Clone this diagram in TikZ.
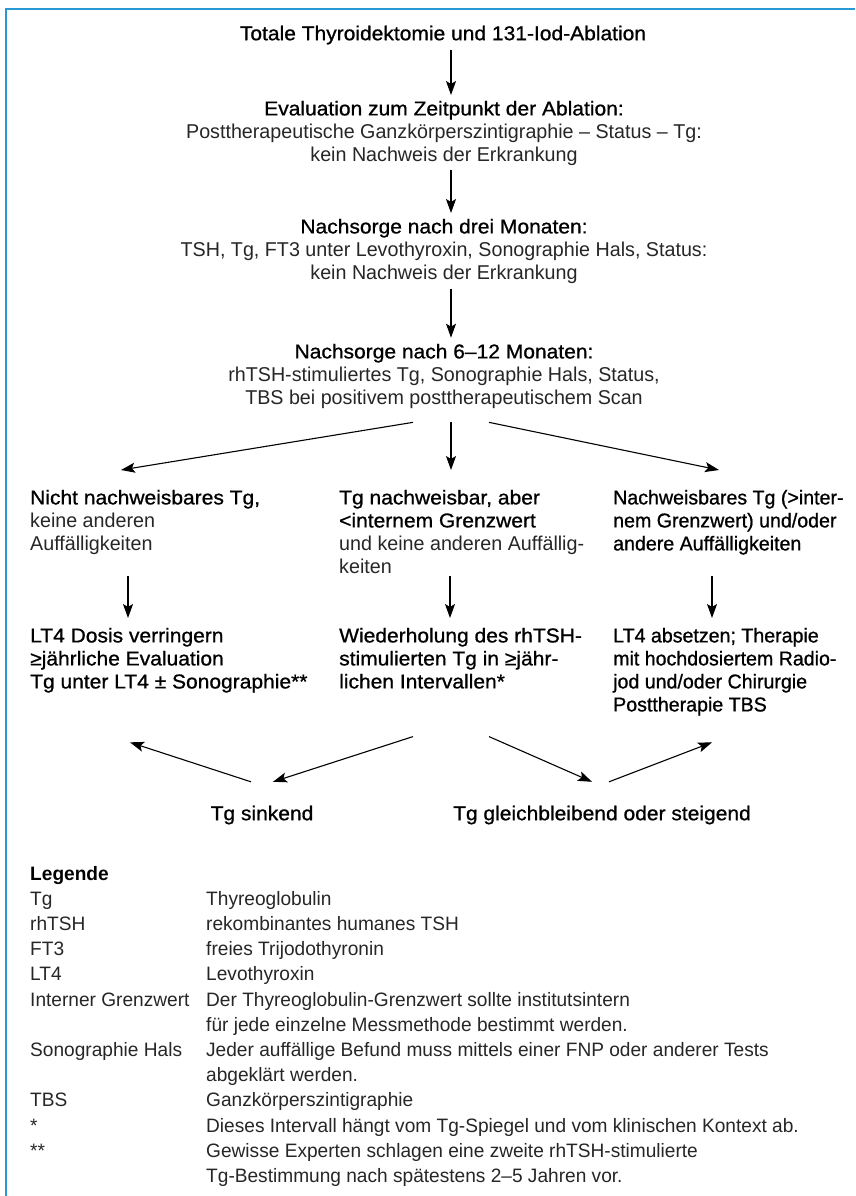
\documentclass[tikz,border=0pt]{standalone}
\usepackage{fontspec}
\setmainfont{Liberation Sans}[FakeStretch=0.985]
\newfontfamily\medfont{Liberation Sans}[FakeStretch=1.05,FakeBold=0.9]
\newfontfamily\medslim{Liberation Sans}[FakeStretch=0.98,FakeBold=0.9]
\usepackage{tikz}
\usetikzlibrary{arrows.meta,positioning}

\definecolor{frameblue}{RGB}{40,152,215}
\definecolor{litetext}{gray}{0.15}
\newcommand{\fsz}{\fontsize{20}{23}\selectfont}
\newcommand{\lgsz}{\fontsize{19.4}{25.2}\selectfont}
\newcommand{\md}[1]{{\medfont\color{black}#1}}

\tikzset{
  every node/.style={inner sep=0pt,font=\fsz,text=litetext},
  med/.style={font=\fsz\medfont,text=black},
  medslim/.style={font=\fsz\medslim,text=black},
  colbox/.style={anchor=north west,align=left},
  arr/.style={-{Stealth[length=14pt,width=10pt,inset=3pt]},line width=1.1pt}
}

\begin{document}
\begin{tikzpicture}[x=1pt,y=-1pt]
\useasboundingbox (0,0) rectangle (855,1196);
% frame
\draw[frameblue,line width=2pt] (6,1196) -- (6,9) -- (855,9);

% main chain
\node[med,anchor=base] (title) at (443,40.2) {Totale Thyroidektomie und 131-Iod-Ablation};
\node[align=center,anchor=north] (eval) at (444,100.7) {\md{Evaluation zum Zeitpunkt der Ablation:}\\
  Posttherapeutische Ganzkörperszintigraphie – Status – Tg:\\
  kein Nachweis der Erkrankung};
\node[align=center,anchor=north] (drei) at (444,218.7) {\md{Nachsorge nach drei Monaten:}\\
  TSH, Tg, FT3 unter Levothyroxin, Sonographie Hals, Status:\\
  kein Nachweis der Erkrankung};
\node[align=center,anchor=north] (sechs) at (444,343.7) {\md{Nachsorge nach 6–12 Monaten:}\\
  rhTSH-stimuliertes Tg, Sonographie Hals, Status,\\
  TBS bei positivem posttherapeutischem Scan};

\draw[arr] ([xshift=8pt,yshift=-5.6pt]title.south) -- ([xshift=7pt,yshift=5.7pt]eval.north);
\draw[arr] ([xshift=7pt,yshift=-4.6pt]eval.south) -- ([xshift=7pt,yshift=5.7pt]drei.north);
\draw[arr] ([xshift=7pt,yshift=-5.6pt]drei.south) -- ([xshift=7pt,yshift=6pt]sechs.north);

% first row
\node[colbox] (left1) at (30,489.7) {\md{Nicht nachweisbares Tg,}\\
  keine anderen\\ Auffälligkeiten};
\node[colbox] (mid1) at (339,489.7) {\md{Tg nachweisbar, aber}\\
  \md{<internem Grenzwert}\\ und keine anderen Auffällig-\\ keiten};
\node[colbox,medslim] (right1) at (613,489.7) {Nachweisbares Tg (>inter-\\
  nem Grenzwert) und/oder\\ andere Auffälligkeiten};

\draw[arr] ([xshift=-31pt,yshift=-13.6pt]sechs.south) -- ([xshift=91pt,yshift=19.7pt]left1.north west);
\draw[arr] ([xshift=7pt,yshift=-13.6pt]sechs.south) -- ([xshift=112pt,yshift=19.7pt]mid1.north west);
\draw[arr] ([xshift=45pt,yshift=-13.6pt]sechs.south) -- ([xshift=106pt,yshift=19.7pt]right1.north west);

% second row
\node[colbox,med] (left2) at (30,627.7) {LT4 Dosis verringern\\
  ≥jährliche Evaluation\\ Tg unter LT4 ± Sonographie**};
\node[colbox,med] (mid2) at (339,627.7) {Wiederholung des rhTSH-\\
  stimulierten Tg in ≥jähr-\\ lichen Intervallen*};
\node[colbox,medslim] (right2) at (613,627.7) {LT4 absetzen; Therapie\\
  mit hochdosiertem Radio-\\ jod und/oder Chirurgie\\ Posttherapie TBS};

\draw[arr] ([xshift=98pt,yshift=-86.3pt]left1.north west) -- ([xshift=98pt,yshift=9.7pt]left2.north west);
\draw[arr] ([xshift=111pt,yshift=-86.3pt]mid1.north west) -- ([xshift=111pt,yshift=9.7pt]mid2.north west);
\draw[arr] ([xshift=99pt,yshift=-86.3pt]right1.north west) -- ([xshift=99pt,yshift=9.7pt]right2.north west);

% outcome
\node[med,anchor=base] (sink) at (262,820.2) {Tg sinkend};
\node[med,anchor=base] (steig) at (602,820.2) {Tg gleichbleibend oder steigend};

\draw[arr] ([xshift=-11pt,yshift=23.7pt]sink.north) -- ([xshift=100pt,yshift=-49.6pt]left2.south west);
\draw[arr] ([xshift=74pt,yshift=-47.8pt]mid2.south west) -- ([xshift=11pt,yshift=23.7pt]sink.north);
\draw[arr] ([xshift=150pt,yshift=-47.8pt]mid2.south west) -- ([xshift=-10pt,yshift=23.7pt]steig.north);
\draw[arr] ([xshift=7pt,yshift=23.7pt]steig.north) -- ([xshift=99pt,yshift=-26.6pt]right2.south west);

% legend
\node[colbox,font=\lgsz] (legend) at (30,862.2) {\begin{tabular}{@{}p{176pt}@{}l@{}}
  \textbf{\color{black}Legende} & \\
  Tg & Thyreoglobulin\\
  rhTSH & rekombinantes humanes TSH\\
  FT3 & freies Trijodothyronin\\
  LT4 & Levothyroxin\\
  Interner Grenzwert & Der Thyreoglobulin-Grenzwert sollte institutsintern\\
   & für jede einzelne Messmethode bestimmt werden.\\
  Sonographie Hals & Jeder auffällige Befund muss mittels einer FNP oder anderer Tests\\
   & abgeklärt werden.\\
  TBS & Ganzkörperszintigraphie\\
  {*} & Dieses Intervall hängt vom Tg-Spiegel und vom klinischen Kontext ab.\\
  {**} & Gewisse Experten schlagen eine zweite rhTSH-stimulierte\\
   & Tg-Bestimmung nach spätestens 2–5 Jahren vor.
\end{tabular}};
\end{tikzpicture}
\end{document}
